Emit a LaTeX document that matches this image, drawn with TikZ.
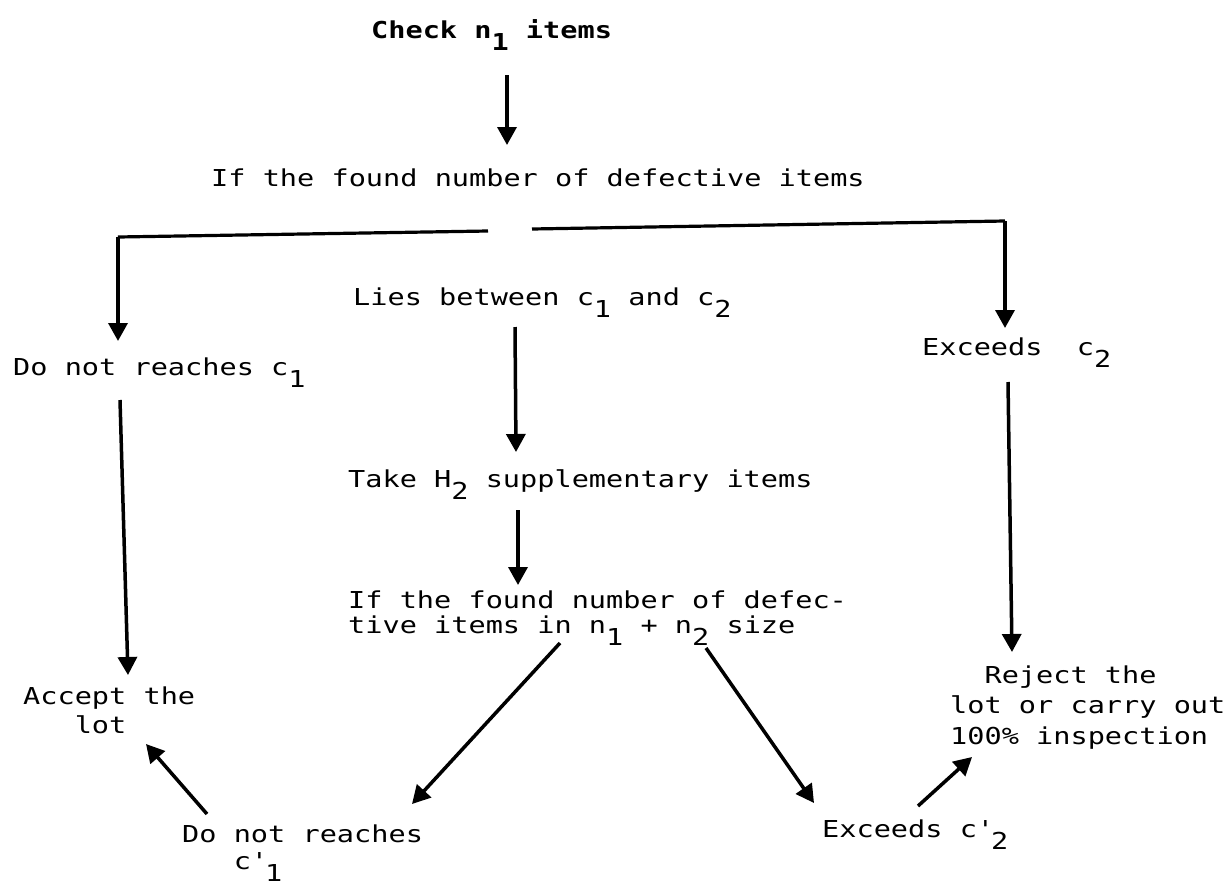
\documentclass[tikz,border=0pt]{standalone}
\usepackage{fontspec}
\setmainfont{DejaVu Sans Mono}[FakeStretch=1.226]
\usetikzlibrary{arrows.meta}
\newcommand\lo[1]{\raisebox{-12pt}{#1}}
\newcommand\lines[2]{\vtop{\baselineskip=#1pt\relax #2}}
\tikzset{
  lbl/.style={inner sep=0pt, anchor=base west, font=\fontsize{23.3}{28}\selectfont},
  arr/.style={line width=3.5pt, -{Triangle[length=18pt,width=19pt]}},
  ln/.style={line width=3.2pt}
}
\begin{document}
\begin{tikzpicture}[x=1pt,y=-1pt]
\useasboundingbox (0,0) rectangle (1227,892);
% nodes (base west at first baseline)
\node[lbl, font=\fontsize{23.3}{28}\selectfont\bfseries] (check) at (371,38) {Check n\lo{1} items};
\node[lbl] (if1) at (211,186) {If the found number of defective items};
\node[lbl] (lies) at (353,305) {Lies between c\lo{1} and c\lo{2}};
\node[lbl] (dn1) at (13,375) {Do not reaches c\lo{1}};
\node[lbl] (ex2) at (922,355) {Exceeds~~c\lo{2}};
\node[lbl] (take) at (348,487) {Take H\lo{2} supplementary items};
\node[lbl] (if2) at (348,608) {\lines{25}{\hbox{If the found number of defec-}\hbox{tive items in n\lo{1} + n\lo{2} size}}};
\node[lbl] (accept) at (23,704) {\lines{29}{\hbox{Accept the}\hbox{~~~lot}}};
\node[lbl] (reject) at (950,683) {\lines{30.5}{\hbox{~~Reject the}\hbox{lot or carry out}\hbox{100\% inspection}}};
\node[lbl] (exc2) at (822,837) {Exceeds c\textquotesingle\lo{2}};
\node[lbl] (dnr2) at (182,842) {\lines{27}{\hbox{Do not reaches}\hbox{~~~c\textquotesingle\lo{1}}}};
% connector ends
\coordinate (a1s) at (507,75);   \coordinate (a1e) at (507,145);
\coordinate (jl) at (488,231);   \coordinate (bl) at (118,237);  \coordinate (blt) at (118,341);
\coordinate (jr) at (532,229);   \coordinate (br) at (1005,221); \coordinate (brt) at (1005,328);
\coordinate (a2s) at (515,327);  \coordinate (a2e) at (516,452);
\coordinate (a3s) at (518,510);  \coordinate (a3e) at (518,585);
\coordinate (a4s) at (120,400);  \coordinate (a4e) at (128,675);
\coordinate (a5s) at (1008,382); \coordinate (a5e) at (1012,652);
\coordinate (a6s) at (560,643);  \coordinate (a6e) at (412,804);
\coordinate (a7s) at (706,648);  \coordinate (a7e) at (814,803);
\coordinate (a8s) at (918,806);  \coordinate (a8e) at (972,757);
\coordinate (a9s) at (207,814);  \coordinate (a9e) at (146,744);
% connectors
\draw[arr] (a1s) -- (a1e);
\draw[ln] (jl) -- (bl);
\draw[arr] (bl) -- (blt);
\draw[ln] (jr) -- (br);
\draw[arr] (br) -- (brt);
\draw[arr] (a2s) -- (a2e);
\draw[arr] (a3s) -- (a3e);
\draw[arr] (a4s) -- (a4e);
\draw[arr] (a5s) -- (a5e);
\draw[arr] (a6s) -- (a6e);
\draw[arr] (a7s) -- (a7e);
\draw[arr] (a8s) -- (a8e);
\draw[arr] (a9s) -- (a9e);
\end{tikzpicture}
\end{document}
